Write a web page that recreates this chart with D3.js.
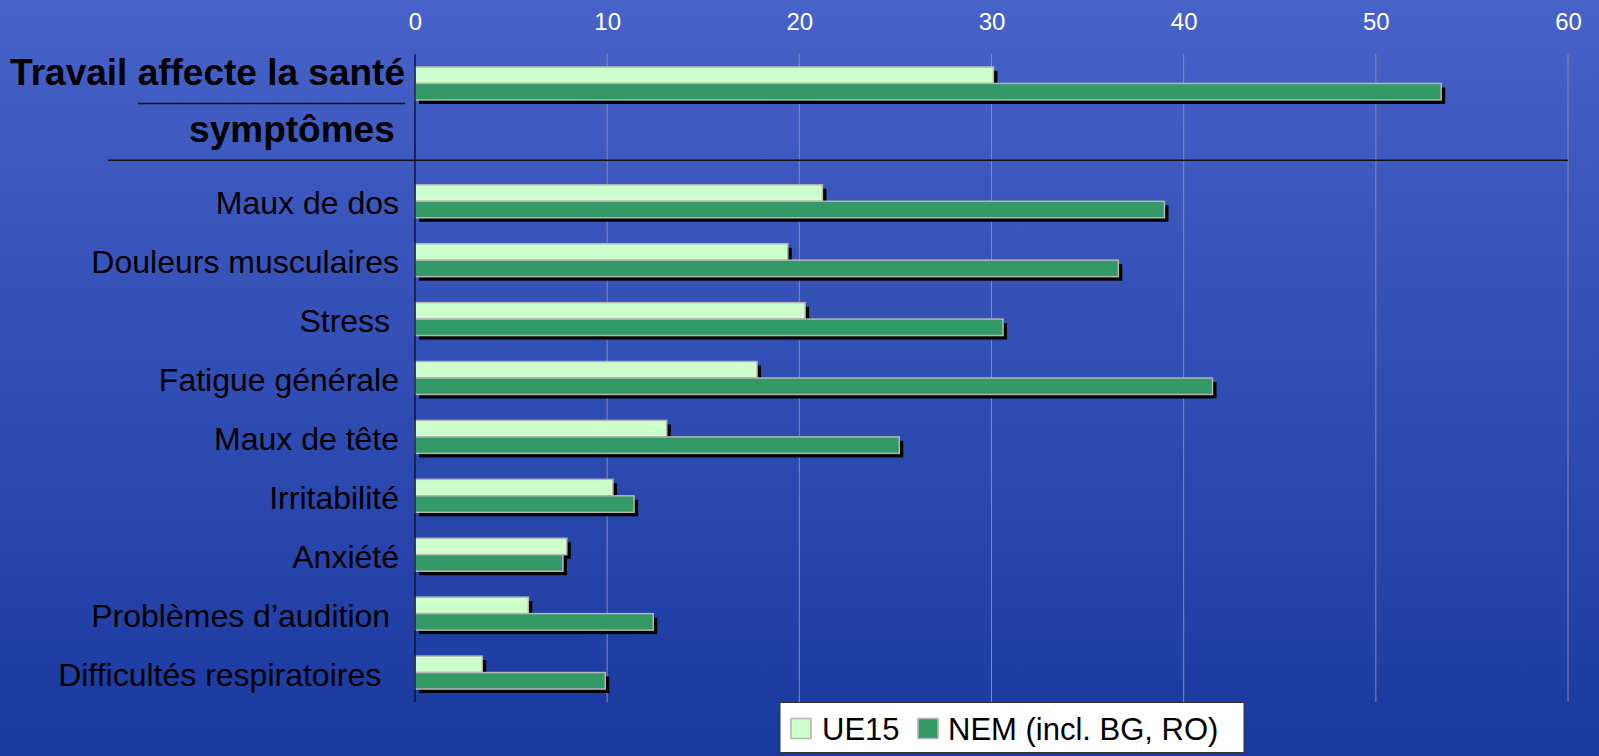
<!DOCTYPE html>
<html><head><meta charset="utf-8">
<script src="https://cdn.jsdelivr.net/npm/d3@7"></script>
<style>
body{margin:0;padding:0;overflow:hidden;}
svg{display:block;font-family:"Liberation Sans",Arial,sans-serif;}
text{white-space:pre;}
</style></head>
<body><svg id="chart" width="1599" height="756"></svg>
<script>
const categories = ["Travail affecte la santé","symptômes","Maux de dos","Douleurs musculaires","Stress ","Fatigue générale","Maux de tête","Irritabilité","Anxiété","Problèmes d\u2019audition ","Difficultés respiratoires  "];
const boldCategories = ["Travail affecte la santé","symptômes"];
const seriesNames = ["UE15","NEM (incl. BG, RO)"];
const ue15 = [30.1,null,21.2,19.4,20.3,17.8,13.1,10.3,7.9,5.9,3.5];
const nem  = [53.4,null,39.0,36.6,30.6,41.5,25.2,11.4,7.7,12.4,9.9];
const tickValues = [0,10,20,30,40,50,60];
const seriesColors = ["#CCFFCC","#339966"];

const svg = d3.select("#chart");
const W = 1599, H = 756;
const defs = svg.append("defs");
const grad = defs.append("linearGradient").attr("id","bg").attr("x1",0).attr("y1",0).attr("x2",0).attr("y2",1);
grad.append("stop").attr("offset","0%").attr("stop-color","#4762C9");
grad.append("stop").attr("offset","100%").attr("stop-color","#1A399F");
svg.append("rect").attr("width",W).attr("height",H).attr("fill","url(#bg)");

const x = d3.scaleLinear().domain([0,60]).range([415,1568]);
const y = d3.scaleBand().domain(categories).range([54,702]).paddingInner(0.44).paddingOuter(0.22);
const sub = d3.scaleBand().domain(seriesNames).range([0,y.bandwidth()]);

// gridlines
svg.append("g").selectAll("line").data(tickValues.filter(d=>d>0)).join("line")
  .attr("x1",d=>x(d)).attr("x2",d=>x(d)).attr("y1",54).attr("y2",702)
  .attr("stroke","#8C8C8C").attr("stroke-width",1);

// top tick labels via axis
const axTop = svg.append("g").attr("transform","translate(0,30)")
  .call(d3.axisTop(x).tickValues(tickValues).tickSize(0).tickPadding(0).tickFormat(d3.format("d")));
axTop.select(".domain").remove();
axTop.selectAll("text").attr("fill","#FFFFFF").attr("font-size",24).attr("dy",0)
  .attr("font-family","'Liberation Sans',Arial,sans-serif");

// separator lines
const yT = y(categories[0]) + y.bandwidth()/2;
const yS = y(categories[1]) + y.bandwidth()/2;
svg.append("line").attr("x1",138).attr("x2",405).attr("y1",yT+20).attr("y2",yT+20)
  .attr("stroke","#111").attr("stroke-width",1.5);
svg.append("line").attr("x1",108).attr("x2",x(60)).attr("y1",yS+18).attr("y2",yS+18)
  .attr("stroke","#111").attr("stroke-width",1.5);

// bars
const rows = categories.map((c,i)=>({c, vals:[ue15[i],nem[i]]}));
const g = svg.append("g");
rows.forEach(r=>{
  r.vals.forEach((v,j)=>{
    if(v==null) return;
    const yy = y(r.c) + sub(seriesNames[j]);
    g.append("rect").attr("x",x(0)+4).attr("y",yy+4)
      .attr("width",x(v)-x(0)).attr("height",sub.bandwidth()).attr("fill","#000");
    g.append("rect").attr("x",x(0)).attr("y",yy)
      .attr("width",x(v)-x(0)).attr("height",sub.bandwidth())
      .attr("fill",seriesColors[j]).attr("stroke","#B5B5B5").attr("stroke-width",1.5);
  });
});

// axis line
svg.append("line").attr("x1",x(0)).attr("x2",x(0)).attr("y1",54).attr("y2",702)
  .attr("stroke","#0D1440").attr("stroke-width",1.5);

// category labels
svg.append("g").selectAll("text").data(categories).join("text")
  .attr("x",d=>boldCategories.includes(d)?405:399)
  .attr("y",d=>{
    const c = y(d)+y.bandwidth()/2;
    if(d===categories[0]) return c+2;
    if(d===categories[1]) return c;
    return c+13;
  })
  .attr("text-anchor","end")
  .attr("font-size",d=>boldCategories.includes(d)?37:32)
  .attr("font-weight",d=>boldCategories.includes(d)?"bold":"normal")
  .attr("fill","#000")
  .text(d=>d===categories[1] ? d+" " : d);

// legend
const lg = svg.append("g");
lg.append("rect").attr("x",780).attr("y",702.5).attr("width",464).attr("height",50)
  .attr("fill","#FFFFFF").attr("stroke","#333").attr("stroke-width",1);
const legX = [791,918];
const legTX = [822,948];
seriesNames.forEach((s,i)=>{
  lg.append("rect").attr("x",legX[i]).attr("y",718.5).attr("width",20).attr("height",20)
    .attr("fill",seriesColors[i]).attr("stroke","#B5B5B5").attr("stroke-width",1.5);
  lg.append("text").attr("x",legTX[i]).attr("y",740).attr("font-size",31).attr("fill","#000").text(s);
});
</script></body></html>
